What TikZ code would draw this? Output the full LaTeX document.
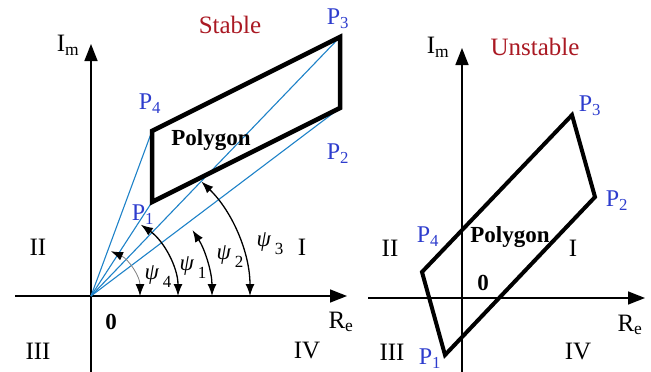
\documentclass[tikz,border=0pt]{standalone}
\usepackage{fontspec}
\setmainfont{Liberation Serif}
\definecolor{stabred}{RGB}{170,25,35}
\definecolor{ptblue}{RGB}{45,60,205}
\definecolor{rayblue}{RGB}{30,130,200}
\usetikzlibrary{arrows.meta}
\newcommand{\lblsub}[2]{#1\textsubscript{#2}}
\newcommand{\psilbl}[1]{\textit{ψ}\,\raisebox{-0.35em}{\fontsize{17}{17}\selectfont #1}}

\begin{document}
\begin{tikzpicture}[
      x=1pt,
      y=-1pt,
      lbl/.style={font=\fontsize{25}{27}\selectfont, inner sep=0pt},
      ptlbl/.style={font=\fontsize{24}{26}\selectfont, inner sep=0pt, text=ptblue},
      title/.style={lbl, text=stabred},
      polylbl/.style={font=\fontsize{23}{25}\selectfont\bfseries, inner sep=0pt},
      psitext/.style={font=\fontsize{23}{25}\selectfont, inner sep=0pt},
      axis/.style={line width=1.5pt, -{Triangle[length=17pt,width=13pt]}},
      poly/.style={line width=4.5pt, line join=miter},
      ray/.style={rayblue, line width=1.1pt},
      angarc/.style={line width=1.3pt,
        {Latex[length=12pt,width=9pt,black]}-{Latex[length=12pt,width=9pt,black]}}
    ]
    \useasboundingbox (0,0) rectangle (651,372);

    % stable case
    \coordinate (o) at (91,296);
    \coordinate (p1) at (152,202);
    \coordinate (p2) at (340,108);
    \coordinate (p3) at (340,37);
    \coordinate (p4) at (152,131);
    \coordinate (xl) at (15,296);
    \coordinate (xr) at (347,296);
    \coordinate (yb) at (91,372);
    \coordinate (yt) at (91,44);

    \draw[axis] (xl) -- (xr);
    \draw[axis] (yb) -- (yt);

    \foreach \p in {p1,p2,p3,p4}
      \draw[ray] (o) -- (\p);
    \draw[poly] (p1) -- (p4) -- (p3) -- (p2) -- cycle;

    \draw[angarc, gray, line width=0.8pt] (o) ++(49,0) arc[start angle=0, end angle=-66, radius=49];
    \foreach \r/\t in {87/55,121/33,159/46}
      \draw[angarc] (o) ++(\r,0) arc[start angle=0, end angle=-\t, radius=\r];

    \node[psitext] (psi4) at (158,277) {\psilbl{4}};
    \node[psitext] (psi1) at (193,268) {\psilbl{1}};
    \node[psitext] (psi2) at (230,257) {\psilbl{2}};
    \node[psitext] (psi3) at (270,244) {\psilbl{3}};

    \node[title] (stab) at (230,25) {Stable};
    \node[ptlbl] (lp3) at (338,19) {\lblsub{P}{3}};
    \node[ptlbl] (lp4) at (150,104) {\lblsub{P}{4}};
    \node[ptlbl] (lp2) at (338,154) {\lblsub{P}{2}};
    \node[ptlbl] (lp1) at (143,215) {\lblsub{P}{1}};
    \node[polylbl] (poly1) at (211,140) {Polygon};
    \node[lbl] (im1) at (68,45) {\lblsub{I}{m}};
    \node[lbl] (re1) at (341,322) {\lblsub{R}{e}};
    \node[lbl, font=\fontsize{23}{25}\selectfont\bfseries] (zero1) at (111,322) {0};
    \node[lbl] (q2a) at (38,247) {II};
    \node[lbl] (q1a) at (302,247) {I};
    \node[lbl] (q3a) at (38,351) {III};
    \node[lbl] (q4a) at (307,351) {IV};

    % unstable case
    \coordinate (u) at (462,298);
    \coordinate (q1) at (445,355);
    \coordinate (q2) at (595,197);
    \coordinate (q3) at (572,115);
    \coordinate (q4) at (422,272);
    \coordinate (xl2) at (368,298);
    \coordinate (xr2) at (645,298);
    \coordinate (yb2) at (462,372);
    \coordinate (yt2) at (462,48);

    \draw[axis] (xl2) -- (xr2);
    \draw[axis] (yb2) -- (yt2);
    \draw[poly, line width=4pt] (q1) -- (q4) -- (q3) -- (q2) -- cycle;

    \node[title] (unst) at (535,47) {Unstable};
    \node[ptlbl] (lq3) at (590,106) {\lblsub{P}{3}};
    \node[ptlbl] (lq2) at (617,201) {\lblsub{P}{2}};
    \node[ptlbl] (lq4) at (428,237) {\lblsub{P}{4}};
    \node[ptlbl] (lq1) at (430,359) {\lblsub{P}{1}};
    \node[polylbl] (poly2) at (510,237) {Polygon};
    \node[lbl] (im2) at (438,47) {\lblsub{I}{m}};
    \node[lbl] (re2) at (630,325) {\lblsub{R}{e}};
    \node[lbl, font=\fontsize{23}{25}\selectfont\bfseries] (zero2) at (483,283) {0};
    \node[lbl] (q2b) at (390,248) {II};
    \node[lbl] (q1b) at (573,248) {I};
    \node[lbl] (q3b) at (392,352) {III};
    \node[lbl] (q4b) at (578,352) {IV};
  \end{tikzpicture}
\end{document}
